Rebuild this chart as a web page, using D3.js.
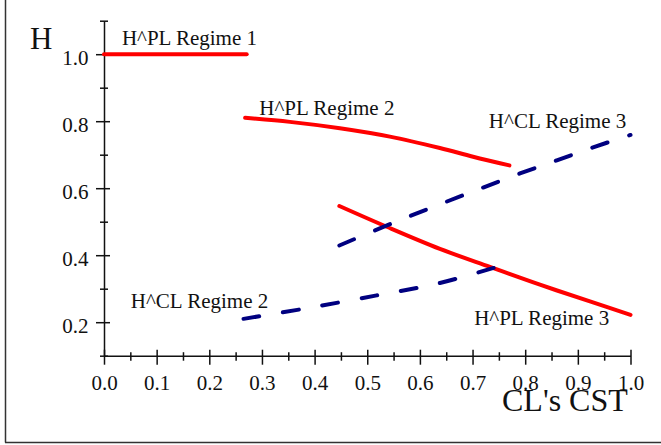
<!DOCTYPE html>
<html>
<head>
<meta charset="utf-8">
<script src="https://cdn.jsdelivr.net/npm/d3@7"></script>
<style>
  html, body { margin: 0; padding: 0; background: #fff; }
  svg { display: block; }
</style>
</head>
<body>
<svg width="661" height="445"></svg>
<script>
// values
var plRegime1X = [0, 0.271];
var plRegime1Y = [1.0, 1.0];
var plRegime2X = [0.268, 0.353, 0.448, 0.543, 0.638, 0.701, 0.770];
var plRegime2Y = [0.810, 0.798, 0.779, 0.754, 0.720, 0.694, 0.668];
var plRegime3X = [0.447, 0.537, 0.638, 0.733, 0.828, 0.923, 1.0];
var plRegime3Y = [0.547, 0.485, 0.419, 0.365, 0.312, 0.262, 0.222];
var clRegime2X = [0.265, 0.379, 0.518, 0.638, 0.740];
var clRegime2Y = [0.210, 0.240, 0.280, 0.317, 0.362];
var clRegime3X = [0.447, 0.553, 0.651, 0.720, 0.790, 0.860, 0.929, 1.0];
var clRegime3Y = [0.429, 0.499, 0.560, 0.602, 0.644, 0.683, 0.722, 0.759];

var xMajor = [0, 0.1, 0.2, 0.3, 0.4, 0.5, 0.6, 0.7, 0.8, 0.9, 1.0];
var xMinor = [0.05, 0.15, 0.25, 0.35, 0.45, 0.55, 0.65, 0.75, 0.85, 0.95];
var yMajor = [0.2, 0.4, 0.6, 0.8, 1.0];
var yMinor = [0.1, 0.3, 0.5, 0.7, 0.9, 1.1];

var labels = [
    {text: 'H^PL Regime 1', x: 0.034, y: 1.027},
    {text: 'H^PL Regime 2', x: 0.295, y: 0.818},
    {text: 'H^CL Regime 3', x: 0.731, y: 0.781},
    {text: 'H^CL Regime 2', x: 0.051, y: 0.2415},
    {text: 'H^PL Regime 3', x: 0.703, y: 0.192}
];

var FONT = '"Liberation Serif", "Times New Roman", Times, serif';
var svg = d3.select('svg');
var mLeft = 104, mTop = 20.7, plotW = 526.5, plotH = 335;

var x = d3.scaleLinear().domain([0, 1]).range([mLeft, mLeft + plotW]);
var y = d3.scaleLinear().domain([0.1, 1.1]).range([mTop + plotH, mTop]);

// frame (only left and bottom edges show)
svg.append('line').attr('x1', 5.5).attr('x2', 5.5).attr('y1', 0).attr('y2', 442.5)
    .style('stroke', '#333').style('stroke-width', 1.5);
svg.append('line').attr('x1', 5).attr('x2', 661).attr('y1', 442.5).attr('y2', 442.5)
    .style('stroke', '#333').style('stroke-width', 1.5);

// x axis
var gx = svg.append('g').attr('transform', 'translate(0,' + y(0.1) + ')');
gx.call(d3.axisBottom(x).tickValues(xMajor).tickFormat(d3.format('.1f')).tickSizeOuter(0));
gx.selectAll('.tick line').attr('y1', -6).attr('y2', 9);
gx.selectAll('.tick text').attr('y', 34).attr('dy', 0);
var gxm = svg.append('g').attr('transform', 'translate(0,' + y(0.1) + ')');
gxm.call(d3.axisBottom(x).tickValues(xMinor).tickFormat('').tickSizeOuter(0));
gxm.select('.domain').remove();
gxm.selectAll('.tick line').attr('y1', -3.5).attr('y2', 5);

// y axis
var gy = svg.append('g').attr('transform', 'translate(' + x(0) + ',0)');
gy.call(d3.axisLeft(y).tickValues(yMajor).tickFormat(d3.format('.1f')).tickSizeOuter(0));
gy.selectAll('.tick line').attr('x1', 6).attr('x2', -8);
gy.selectAll('.tick text').attr('x', -15.5).attr('dy', 10);
var gym = svg.append('g').attr('transform', 'translate(' + x(0) + ',0)');
gym.call(d3.axisLeft(y).tickValues(yMinor).tickFormat('').tickSizeOuter(0));
gym.select('.domain').remove();
gym.selectAll('.tick line').attr('x1', 4).attr('x2', -4);

svg.selectAll('g').attr('font-family', FONT).attr('font-size', 21);
svg.selectAll('.domain, .tick line').style('stroke', '#111').style('stroke-width', 1.5);
svg.selectAll('.tick text').style('fill', '#111');

// curves
var line = d3.line()
    .x(function(d) {return x(d[0]);})
    .y(function(d) {return y(d[1]);})
    .curve(d3.curveCatmullRom.alpha(0.5));

// dashed: the last dash starts 'tail' px before the end of the path
var series = [
    {xs: plRegime1X, ys: plRegime1Y, color: '#ff0000', dashed: false},
    {xs: plRegime2X, ys: plRegime2Y, color: '#ff0000', dashed: false},
    {xs: plRegime3X, ys: plRegime3Y, color: '#ff0000', dashed: false},
    {xs: clRegime2X, ys: clRegime2Y, color: '#000080', dashed: true, tail: 16},
    {xs: clRegime3X, ys: clRegime3Y, color: '#000080', dashed: true, tail: 1.5}
];

series.forEach(function(s) {
    var pts = s.xs.map(function(v, i) {return [v, s.ys[i]];});
    var path = svg.append('path')
        .attr('d', line(pts))
        .style('fill', 'none')
        .style('stroke', s.color)
        .style('stroke-width', 4)
        .style('stroke-linecap', 'round');
    if(s.dashed) {
        var len = path.node().getTotalLength() - s.tail;
        var period = len / Math.max(1, Math.round(len / 39));
        path.style('stroke-dasharray', '16,' + (period - 16));
    }
});

// annotations
svg.selectAll('text.lab')
    .data(labels)
    .enter()
    .append('text')
    .attr('class', 'lab')
    .attr('x', function(d) {return x(d.x);})
    .attr('y', function(d) {return y(d.y);})
    .attr('font-family', FONT)
    .attr('font-size', 21)
    .style('fill', '#111')
    .text(function(d) {return d.text;});

// axis titles
svg.append('text').attr('x', 30).attr('y', 49)
    .attr('font-family', FONT).attr('font-size', 31).style('fill', '#111').text('H');
svg.append('text').attr('x', 502).attr('y', 410.5)
    .attr('font-family', FONT).attr('font-size', 32).style('fill', '#111').text("CL's CST");
</script>
</body>
</html>
